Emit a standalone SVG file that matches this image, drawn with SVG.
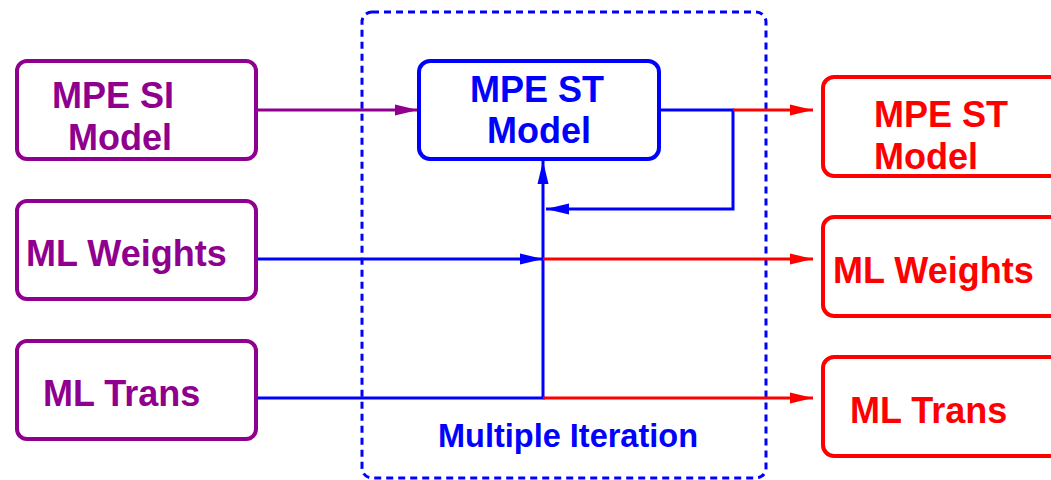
<svg xmlns="http://www.w3.org/2000/svg" width="1051" height="480" viewBox="0 0 1051 480">
<style>
text{font-family:"Liberation Sans",Arial,sans-serif;font-weight:bold;font-size:36px}
.p{fill:none;stroke:#8f008f;stroke-width:4}
.b{fill:none;stroke:#0000ff;stroke-width:4}
.r{fill:none;stroke:#ff0000;stroke-width:4}
.tp{fill:#8f008f}.tb{fill:#0000ff}.tr{fill:#ff0000}
.cb{fill:none;stroke:#0000ff;stroke-width:3}
.cr{fill:none;stroke:#ff0000;stroke-width:3}
.cp{fill:none;stroke:#8f008f;stroke-width:3}
</style>
<defs>
<marker id="ap" markerUnits="userSpaceOnUse" markerWidth="24" markerHeight="14" refX="23" refY="7" orient="auto"><path d="M0,1.5 L23,7 L0,12.5 Z" fill="#8f008f"/></marker>
<marker id="ab" markerUnits="userSpaceOnUse" markerWidth="24" markerHeight="14" refX="23" refY="7" orient="auto"><path d="M0,1.5 L23,7 L0,12.5 Z" fill="#0000ff"/></marker>
<marker id="ar" markerUnits="userSpaceOnUse" markerWidth="24" markerHeight="14" refX="23" refY="7" orient="auto"><path d="M0,1.5 L23,7 L0,12.5 Z" fill="#ff0000"/></marker>
</defs>
<g id="iteration-frame">
<rect x="362" y="12" width="404" height="466" rx="10" fill="none" stroke="#0000ff" stroke-width="3" stroke-dasharray="7,5"/>
<text class="tb" x="438" y="447" style="font-size:32.5px">Multiple Iteration</text>
</g>
<g id="connectors">
<line class="cp" x1="258" y1="110" x2="418" y2="110" marker-end="url(#ap)"/>
<polyline class="cb" points="660,110 733,110 733,209 546,209" marker-end="url(#ab)"/>
<line class="cr" x1="733" y1="110" x2="813" y2="110" marker-end="url(#ar)"/>
<line class="cb" x1="543" y1="398" x2="543" y2="161" marker-end="url(#ab)"/>
<line class="cb" x1="258" y1="259" x2="543" y2="259" marker-end="url(#ab)"/>
<line class="cr" x1="543" y1="259" x2="813" y2="259" marker-end="url(#ar)"/>
<line class="cb" x1="258" y1="398" x2="545" y2="398"/>
<line class="cr" x1="543" y1="398" x2="813" y2="398" marker-end="url(#ar)"/>
</g>
<g id="mpe-si-model">
<rect class="p" x="17" y="61" width="239" height="98" rx="10"/>
<text class="tp" x="52" y="108">MPE SI</text>
<text class="tp" x="68" y="150">Model</text>
</g>
<g id="ml-weights-in">
<rect class="p" x="17" y="201" width="239" height="98" rx="10"/>
<text class="tp" x="26" y="266">ML Weights</text>
</g>
<g id="ml-trans-in">
<rect class="p" x="17" y="341" width="239" height="98" rx="10"/>
<text class="tp" x="43" y="406">ML Trans</text>
</g>
<g id="mpe-st-model">
<rect class="b" x="419" y="61" width="240" height="98" rx="11"/>
<text class="tb" x="470" y="102">MPE ST</text>
<text class="tb" x="487" y="143">Model</text>
</g>
<g id="mpe-st-model-out">
<rect class="r" x="823" y="77" width="250" height="99" rx="11"/>
<text class="tr" x="874" y="127">MPE ST</text>
<text class="tr" x="874" y="169">Model</text>
</g>
<g id="ml-weights-out">
<rect class="r" x="823" y="217" width="250" height="99" rx="11"/>
<text class="tr" x="833" y="283">ML Weights</text>
</g>
<g id="ml-trans-out">
<rect class="r" x="823" y="357" width="250" height="99" rx="11"/>
<text class="tr" x="850" y="423">ML Trans</text>
</g>
</svg>
